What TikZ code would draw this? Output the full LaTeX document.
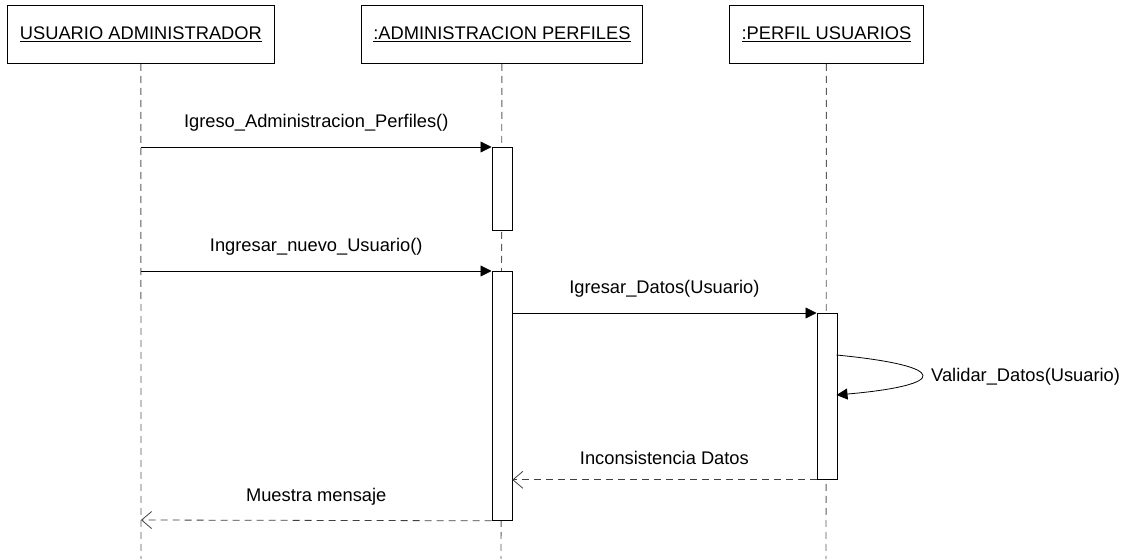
\documentclass[tikz,border=0pt]{standalone}
\usepackage{fontspec}
\setmainfont{Liberation Sans}
\usetikzlibrary{arrows.meta}
\begin{document}
\begin{tikzpicture}[x=1pt,y=-1pt,
  obj/.style={draw=black,line width=0.8pt,minimum height=58pt,inner sep=0pt,anchor=north west},
  life/.style={draw=black!65,line width=0.9pt,dash pattern=on 7pt off 5pt},
  act/.style={draw=black,line width=0.8pt,fill=white,minimum width=20pt,inner sep=0pt,anchor=north west},
  call/.style={draw=black,line width=0.8pt,-{Triangle[length=11pt,width=11pt]}},
  ret/.style={draw=black!75,line width=0.8pt,dash pattern=on 7pt off 5pt,-{Straight Barb[length=10pt,width=17pt,line width=0.8pt]}},
  lbl/.style={font=\fontsize{18.3}{20}\selectfont,inner sep=0pt}]
\useasboundingbox (0,0) rectangle (1131,559);
\node[obj,minimum width=267pt] (o1) at (7,5) {};
\node[lbl] at (o1.center) {\underline{USUARIO ADMINISTRADOR}};
\node[obj,minimum width=281pt] (o2) at (361,5) {};
\node[lbl] at (o2.center) {\underline{:ADMINISTRACION PERFILES}};
\node[obj,minimum width=194pt] (o3) at (729,5) {};
\node[lbl] at (o3.center) {\underline{:PERFIL USUARIOS}};
\coordinate (l1) at (141,559);
\coordinate (l2) at (501,559);
\coordinate (l3) at (826,559);
\draw[life] (o1.south) -- (l1);
\draw[life] (o2.south) -- (l2);
\draw[life] (o3.south) -- (l3);
\node[act,minimum height=83pt] (a1) at (491.5,147) {};
\node[act,minimum height=249pt] (a2) at (491.5,271) {};
\node[act,minimum height=166pt] (a3) at (816.5,313) {};
\coordinate (s1) at (141,147);
\coordinate (s2) at (141,271);
\coordinate (s6) at (141,520);
\draw[call] (s1) -- (a1.north west) node[lbl,midway,above=15pt] {Igreso\_Administracion\_Perfiles()};
\draw[call] (s2) -- (a2.north west) node[lbl,midway,above=15pt] {Ingresar\_nuevo\_Usuario()};
\draw[call] (a2.north east |- a3.north west) -- (a3.north west) node[lbl,midway,above=15pt] {Igresar\_Datos(Usuario)};
\coordinate (v1) at (836.5,355);
\coordinate (v2) at (836.5,395);
\draw[call] (v1) .. controls (950,366) and (950,385) .. (v2);
\node[lbl,anchor=west] at (931,377) {Validar\_Datos(Usuario)};
\draw[ret] (a3.south west) -- (a2.north east |- a3.south west) node[lbl,midway,above=15pt] {Inconsistencia Datos};
\draw[ret] (a2.south west) -- (s6) node[lbl,midway,above=15pt] {Muestra mensaje};
\end{tikzpicture}
\end{document}
